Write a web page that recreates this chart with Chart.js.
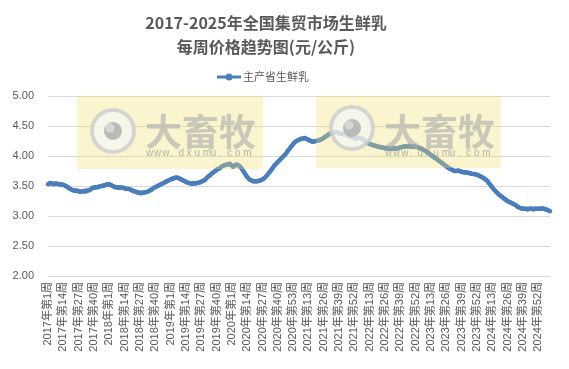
<!DOCTYPE html>
<html>
<head>
<meta charset="utf-8">
<script src="https://cdn.jsdelivr.net/npm/chart.js@4.4.1/dist/chart.umd.min.js"></script>
<style>
html,body{margin:0;padding:0;background:#fff;}
#wrap{width:569px;height:369px;position:relative;}
</style>
</head>
<body>
<div id="wrap"><canvas id="c" width="569" height="369"></canvas></div>
<script>
// ---- data ----
const years = [2017, 2018, 2019, 2020, 2021, 2022, 2023, 2024, 2025];
const weeksPerYear = [52, 52, 52, 53, 52, 52, 52, 52, 10];
const seriesName = '主产省生鲜乳';
const yTicks = [2.00, 2.50, 3.00, 3.50, 4.00, 4.50, 5.00];

const p2017 = [3.53,3.54,3.55,3.54,3.54,3.53,3.54,3.54,3.54,3.53,3.53,3.53,3.52,3.52,3.51,3.50,3.49,3.48,3.46,3.45,3.44,3.43,3.43,3.42,3.42,3.42,3.41,3.41,3.41,3.41,3.41,3.42,3.41,3.42,3.43,3.43,3.44,3.46,3.47,3.47,3.48,3.48,3.48,3.49,3.49,3.50,3.50,3.51,3.51,3.52,3.52,3.53];
const p2018 = [3.53,3.52,3.51,3.50,3.49,3.48,3.48,3.48,3.47,3.48,3.47,3.47,3.47,3.46,3.46,3.45,3.45,3.45,3.44,3.43,3.42,3.41,3.41,3.40,3.39,3.39,3.39,3.38,3.39,3.39,3.39,3.40,3.40,3.41,3.42,3.43,3.44,3.46,3.47,3.48,3.49,3.50,3.51,3.52,3.53,3.54,3.55,3.56,3.57,3.58,3.59,3.60];
const p2019 = [3.61,3.62,3.62,3.63,3.64,3.64,3.64,3.63,3.62,3.61,3.60,3.59,3.58,3.57,3.56,3.55,3.55,3.54,3.54,3.54,3.55,3.54,3.55,3.55,3.56,3.56,3.57,3.58,3.59,3.60,3.62,3.64,3.66,3.67,3.69,3.71,3.72,3.74,3.75,3.77,3.78,3.79,3.80,3.82,3.83,3.84,3.85,3.85,3.86,3.86,3.87,3.86];
const p2020 = [3.84,3.82,3.83,3.85,3.86,3.85,3.84,3.82,3.80,3.77,3.74,3.71,3.68,3.65,3.63,3.61,3.60,3.59,3.58,3.58,3.58,3.58,3.58,3.59,3.59,3.60,3.61,3.62,3.64,3.66,3.68,3.71,3.73,3.76,3.78,3.81,3.84,3.86,3.88,3.90,3.92,3.94,3.96,3.98,4.00,4.02,4.04,4.07,4.10,4.12,4.15,4.17,4.20];
const p2021 = [4.22,4.24,4.25,4.26,4.27,4.28,4.29,4.29,4.29,4.30,4.29,4.28,4.27,4.26,4.25,4.24,4.24,4.24,4.25,4.25,4.26,4.26,4.27,4.28,4.29,4.30,4.32,4.33,4.34,4.36,4.37,4.38,4.38,4.39,4.39,4.40,4.40,4.39,4.38,4.37,4.37,4.37,4.36,4.36,4.35,4.34,4.34,4.33,4.32,4.31,4.30,4.29];
const p2022 = [4.29,4.29,4.30,4.30,4.30,4.29,4.28,4.27,4.25,4.24,4.22,4.21,4.20,4.19,4.19,4.18,4.17,4.17,4.16,4.16,4.15,4.15,4.14,4.14,4.14,4.13,4.13,4.13,4.12,4.12,4.13,4.12,4.13,4.13,4.12,4.13,4.13,4.14,4.14,4.15,4.15,4.16,4.16,4.16,4.16,4.17,4.16,4.16,4.16,4.15,4.16,4.15];
const p2023 = [4.15,4.14,4.14,4.13,4.12,4.11,4.10,4.09,4.08,4.06,4.05,4.03,4.02,4.00,3.99,3.97,3.96,3.95,3.93,3.92,3.90,3.89,3.87,3.86,3.84,3.83,3.81,3.80,3.79,3.78,3.77,3.76,3.75,3.75,3.75,3.76,3.75,3.74,3.74,3.73,3.73,3.73,3.72,3.72,3.72,3.71,3.71,3.70,3.70,3.70,3.69,3.69];
const p2024 = [3.68,3.67,3.66,3.65,3.64,3.63,3.61,3.60,3.58,3.55,3.53,3.50,3.48,3.45,3.43,3.41,3.39,3.37,3.35,3.34,3.32,3.31,3.29,3.28,3.26,3.25,3.24,3.23,3.22,3.21,3.20,3.19,3.18,3.16,3.15,3.14,3.13,3.13,3.12,3.12,3.12,3.12,3.11,3.12,3.12,3.12,3.12,3.11,3.12,3.12,3.12,3.12];
const p2025 = [3.12,3.12,3.13,3.12,3.12,3.11,3.11,3.10,3.09,3.08];

// ---- build ----
const yearSeries = [p2017, p2018, p2019, p2020, p2021, p2022, p2023, p2024, p2025];
const labels = [];
years.forEach((y, k) => { for (let w = 1; w <= weeksPerYear[k]; w++) labels.push(y + '年第' + w + '周'); });
const values = [].concat(...yearSeries);

const TXT = '#595959';
const LINE = '#4A7EBB';
const FONT = "'Liberation Sans', 'Noto Sans CJK SC', sans-serif";

const overlay = {
  id: 'overlay',
  afterDatasetsDraw(chart) {
    const ctx = chart.ctx;
    function wm(x0, x1, y0, y1, cx, cy, tx) {
      ctx.save();
      ctx.fillStyle = 'rgba(240,226,110,0.33)';
      ctx.fillRect(x0, y0, x1 - x0, y1 - y0);
      ctx.beginPath(); ctx.arc(cx, cy, 21, 0, Math.PI * 2);
      ctx.fillStyle = 'rgba(246,246,246,0.7)'; ctx.fill();
      ctx.lineWidth = 4; ctx.strokeStyle = 'rgba(205,205,205,0.8)'; ctx.stroke();
      ctx.beginPath(); ctx.arc(cx, cy, 9, 0, Math.PI * 2);
      ctx.fillStyle = 'rgba(165,165,165,0.75)'; ctx.fill();
      ctx.beginPath(); ctx.arc(cx - 3, cy - 3, 4.5, 0, Math.PI * 2);
      ctx.fillStyle = 'rgba(220,220,220,0.85)'; ctx.fill();
      ctx.fillStyle = 'rgba(170,170,170,0.6)';
      ctx.font = "bold 37px 'Noto Sans CJK SC'";
      ctx.textBaseline = 'alphabetic'; ctx.textAlign = 'left';
      ctx.fillText('大畜牧', tx, 146);
      ctx.font = "10px 'Liberation Sans'";
      ctx.fillStyle = 'rgba(150,150,150,0.7)';
      const s = 'www.dxumu.com';
      for (let i = 0; i < s.length; i++) ctx.fillText(s[i], tx + 1 + i * 8.1, 156);
      ctx.restore();
    }
    wm(77, 263, 96, 169, 113, 131, 145);
    wm(316, 501, 96, 168, 352, 128, 384);
  },
  afterDraw(chart) {
    const ctx = chart.ctx;
    ctx.save();
    ctx.fillStyle = TXT;
    ctx.textAlign = 'center'; ctx.textBaseline = 'middle';
    ctx.font = "bold 16px 'Noto Sans CJK SC', 'Liberation Sans'";
    ctx.fillText('2017-2025年全国集贸市场生鲜乳', 266, 23);
    ctx.fillText('每周价格趋势图(元/公斤)', 266, 47);
    // legend
    ctx.strokeStyle = LINE; ctx.lineWidth = 3;
    ctx.beginPath(); ctx.moveTo(217, 77); ctx.lineTo(241, 77); ctx.stroke();
    ctx.fillStyle = LINE;
    ctx.beginPath(); ctx.arc(229, 77, 3.5, 0, Math.PI * 2); ctx.fill();
    ctx.fillStyle = TXT; ctx.textAlign = 'left';
    ctx.font = "11px 'Noto Sans CJK SC'";
    ctx.fillText(seriesName, 243, 77);
    ctx.restore();
  }
};

new Chart(document.getElementById('c'), {
  type: 'line',
  data: {
    labels: labels,
    datasets: [{
      label: seriesName,
      data: values,
      borderColor: LINE,
      backgroundColor: LINE,
      borderWidth: 4,
      pointRadius: 2.2,
      pointBorderWidth: 0,
      pointBackgroundColor: LINE,
      tension: 0,
      fill: false
    }]
  },
  options: {
    responsive: false,
    animation: false,
    devicePixelRatio: 1,
    layout: { padding: { top: 96, right: 19, bottom: 0, left: 0 } },
    plugins: { legend: { display: false }, title: { display: false }, tooltip: { enabled: false } },
    scales: {
      x: {
        type: 'category',
        offset: false,
        grid: { display: false, drawTicks: false },
        border: { display: false },
        afterFit(s) { s.height = 93; },
        ticks: {
          autoSkip: false,
          maxRotation: 90, minRotation: 90,
          padding: 6,
          color: TXT,
          font: { family: FONT, size: 11 },
          callback(v, i) { return i % 13 === 0 ? labels[i] : null; }
        }
      },
      y: {
        min: 2, max: 5,
        afterFit(s) { s.width = 48; },
        afterBuildTicks(s) { s.ticks = yTicks.map(v => ({ value: v })); },
        grid: { color: '#d9d9d9', lineWidth: 1, drawTicks: false },
        border: { display: false },
        ticks: {
          padding: 14,
          color: TXT,
          font: { family: FONT, size: 11 },
          callback(v) { return Number(v).toFixed(2); }
        }
      }
    }
  },
  plugins: [overlay]
});
</script>
</body>
</html>
